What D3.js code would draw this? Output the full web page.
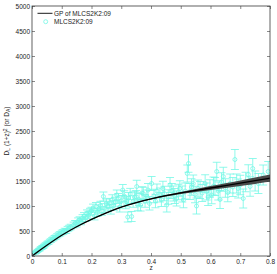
<!DOCTYPE html>
<html>
<head>
<meta charset="utf-8">
<script src="https://cdn.jsdelivr.net/npm/d3@7"></script>
<style>
  body { margin: 0; background: #fff; }
  svg { display: block; font-family: "Liberation Sans", Arial, sans-serif; }
</style>
</head>
<body>
<div id="chart"></div>
<script>
// GP reconstruction (mean and spread)
var gpZ = [0, 0.05, 0.1, 0.15, 0.2, 0.25, 0.3, 0.35, 0.4, 0.45, 0.5, 0.55, 0.6, 0.65, 0.7, 0.75, 0.8];
var gpMean = [0, 215, 420, 590, 735, 865, 980, 1068, 1143, 1207, 1262, 1312, 1360, 1407, 1455, 1505, 1558];
var gpSigma = [0, 2, 3, 4, 5, 6, 7, 9, 11, 15, 20, 30, 40, 48, 56, 63, 70];

// MLCS2K2:09 supernovae: redshift, distance, error
var snZ = [0.010, 0.012, 0.014, 0.016, 0.018, 0.020, 0.022, 0.024, 0.026, 0.028,
  0.030, 0.032, 0.034, 0.036, 0.038, 0.040, 0.043, 0.046, 0.050, 0.053,
  0.056, 0.060, 0.064, 0.068, 0.072, 0.076, 0.080, 0.085, 0.090, 0.095,
  0.100, 0.105, 0.110, 0.115, 0.120, 0.125, 0.130, 0.140, 0.145, 0.150,
  0.155, 0.160, 0.165, 0.170, 0.175, 0.180, 0.185, 0.190, 0.195, 0.200,
  0.205, 0.210, 0.215, 0.220, 0.225, 0.230, 0.235, 0.240, 0.245, 0.250,
  0.255, 0.260, 0.265, 0.270, 0.275, 0.280, 0.285, 0.290, 0.295, 0.300,
  0.305, 0.310, 0.315, 0.318, 0.322, 0.325, 0.330, 0.335, 0.340, 0.345,
  0.350, 0.352, 0.356, 0.360, 0.365, 0.370, 0.374, 0.380, 0.386, 0.390,
  0.395, 0.402, 0.410, 0.415, 0.420, 0.430, 0.435, 0.440, 0.445, 0.453,
  0.458, 0.464, 0.470, 0.475, 0.480, 0.486, 0.492, 0.497, 0.505, 0.509,
  0.515, 0.522, 0.526, 0.531, 0.536, 0.542, 0.548, 0.553, 0.558, 0.565,
  0.572, 0.582, 0.587, 0.592, 0.598, 0.604, 0.610, 0.615, 0.621, 0.626,
  0.632, 0.637, 0.643, 0.650, 0.658, 0.666, 0.675, 0.682, 0.688, 0.693,
  0.700, 0.710, 0.718, 0.727, 0.733, 0.742, 0.750, 0.761, 0.777, 0.794];
var snD = [55, 70, 75, 90, 95, 110, 115, 130, 125, 150,
  160, 155, 175, 185, 180, 205, 215, 235, 250, 265,
  270, 300, 310, 335, 345, 370, 380, 405, 430, 445,
  470, 480, 505, 500, 540, 560, 580, 620, 650, 640,
  700, 720, 690, 760, 800, 760, 850, 820, 880, 900,
  960, 800, 990, 870, 940, 1010, 900, 1190, 960, 1050,
  990, 1060, 930, 1130, 1010, 1080, 1220, 1150, 980, 1100,
  1320, 1200, 1050, 1090, 780, 1160, 1240, 790, 1090, 1180,
  1190, 1390, 1020, 1130, 1020, 1260, 1250, 1100, 1190, 1320,
  1050, 1450, 1200, 1100, 1300, 1220, 1130, 1350, 1250, 1020,
  1180, 1420, 1300, 1250, 1200, 1150, 1280, 1350, 1240, 1120,
  1300, 1650, 1850, 1290, 1380, 1450, 1230, 1000, 1350, 1320,
  1260, 1450, 1290, 1180, 1350, 1220, 1400, 1390, 1690, 1300,
  1130, 1480, 1590, 1360, 1270, 1450, 1380, 1930, 1450, 1350,
  1420, 1150, 1480, 1630, 1390, 1750, 1500, 1450, 1620, 1690];
var snErr = [15, 15, 18, 18, 20, 20, 20, 22, 22, 24,
  24, 25, 25, 26, 27, 28, 28, 30, 30, 32,
  33, 34, 35, 36, 38, 40, 40, 42, 44, 45,
  46, 48, 50, 50, 52, 54, 55, 58, 60, 60,
  62, 64, 65, 66, 68, 70, 72, 72, 74, 75,
  78, 78, 80, 80, 82, 84, 85, 90, 88, 90,
  90, 92, 92, 95, 95, 96, 100, 100, 100, 102,
  110, 105, 105, 105, 100, 110, 112, 100, 115, 115,
  118, 125, 115, 120, 120, 125, 125, 125, 130, 130,
  130, 140, 135, 135, 140, 140, 140, 145, 145, 140,
  145, 150, 150, 150, 150, 150, 155, 155, 160, 155,
  160, 170, 175, 160, 165, 170, 165, 160, 170, 170,
  170, 175, 170, 170, 175, 175, 180, 180, 185, 180,
  180, 185, 185, 185, 185, 190, 190, 200, 190, 190,
  195, 190, 195, 195, 195, 200, 200, 200, 200, 200];

var xTicks = [0, 0.1, 0.2, 0.3, 0.4, 0.5, 0.6, 0.7, 0.8];
var yTicks = [0, 500, 1000, 1500, 2000, 2500, 3000, 3500, 4000, 4500, 5000];
var legendLabels = ["GP of MLCS2K2:09", "MLCS2K2:09"];

var W = 277, H = 274;
var margin = {left: 32, right: 7, top: 6, bottom: 18};
var cyan = "#74f7e6";
var axisColor = "#3a3a3a";

var svg = d3.select("#chart").append("svg")
  .attr("width", W)
  .attr("height", H);

var x = d3.scaleLinear().domain([0, 0.8]).range([margin.left, W - margin.right]);
var y = d3.scaleLinear().domain([0, 5000]).range([H - margin.bottom, margin.top]);

svg.append("clipPath").attr("id", "plot-clip")
  .append("rect")
  .attr("x", x(0)).attr("y", y(5000))
  .attr("width", x(0.8) - x(0)).attr("height", y(0) - y(5000));

var plot = svg.append("g").attr("clip-path", "url(#plot-clip)");

// data points with error bars
var sn = snZ.map(function (z, i) { return {z: z, d: snD[i], e: snErr[i]}; });
var capW = 4;
var pts = plot.append("g")
  .attr("stroke", cyan)
  .attr("stroke-width", 0.8)
  .attr("fill", "none");

pts.selectAll("g.sn").data(sn).enter().append("g")
  .attr("class", "sn")
  .each(function (d) {
    var g = d3.select(this);
    var cx = x(d.z), top = y(d.d + d.e), bot = y(d.d - d.e);
    g.append("line").attr("x1", cx).attr("x2", cx).attr("y1", top).attr("y2", bot);
    g.append("line").attr("x1", cx - capW).attr("x2", cx + capW).attr("y1", top).attr("y2", top);
    g.append("line").attr("x1", cx - capW).attr("x2", cx + capW).attr("y1", bot).attr("y2", bot);
    g.append("circle").attr("cx", cx).attr("cy", y(d.d)).attr("r", 2);
  });

// GP band and mean
var gp = gpZ.map(function (z, i) { return {z: z, m: gpMean[i], s: gpSigma[i]}; });

plot.append("path")
  .datum(gp)
  .attr("fill", "#4a4a4a")
  .attr("d", d3.area()
    .curve(d3.curveBasis)
    .x(function (d) { return x(d.z); })
    .y0(function (d) { return y(d.m - d.s); })
    .y1(function (d) { return y(d.m + d.s); }));

plot.append("path")
  .datum(gp)
  .attr("fill", "none")
  .attr("stroke", "#000")
  .attr("stroke-width", 1.3)
  .attr("d", d3.line()
    .curve(d3.curveBasis)
    .x(function (d) { return x(d.z); })
    .y(function (d) { return y(d.m); }));

// axes, ticks pointing inward on all four sides
function styleAxis(g) {
  g.select(".domain").remove();
  g.selectAll("line").attr("stroke", axisColor).attr("stroke-width", 0.6);
  g.selectAll("text").attr("fill", "#222").style("font-size", "6.5px");
}

svg.append("g")
  .attr("transform", "translate(0," + y(0) + ")")
  .call(d3.axisBottom(x).tickValues(xTicks).tickSize(-3).tickPadding(3)
    .tickFormat(function (d) { return d === 0 ? "0" : d3.format(".1f")(d); }))
  .call(styleAxis);

svg.append("g")
  .attr("transform", "translate(0," + y(5000) + ")")
  .call(d3.axisTop(x).tickValues(xTicks).tickSize(-3).tickFormat(""))
  .call(styleAxis);

svg.append("g")
  .attr("transform", "translate(" + x(0) + ",0)")
  .call(d3.axisLeft(y).tickValues(yTicks).tickSize(-3).tickPadding(2).tickFormat(d3.format("d")))
  .call(styleAxis);

svg.append("g")
  .attr("transform", "translate(" + x(0.8) + ",0)")
  .call(d3.axisRight(y).tickValues(yTicks).tickSize(-3).tickFormat(""))
  .call(styleAxis);

svg.append("rect")
  .attr("x", x(0)).attr("y", y(5000))
  .attr("width", x(0.8) - x(0)).attr("height", y(0) - y(5000))
  .attr("fill", "none")
  .attr("stroke", axisColor)
  .attr("stroke-width", 0.8);

// axis labels
svg.append("text")
  .attr("x", (x(0) + x(0.8)) / 2)
  .attr("y", H - 4)
  .attr("text-anchor", "middle")
  .style("font-size", "6.5px")
  .attr("fill", "#222")
  .text("z");

var yl = svg.append("text")
  .attr("transform", "translate(9," + ((y(0) + y(5000)) / 2) + ") rotate(-90)")
  .attr("text-anchor", "middle")
  .style("font-size", "6.5px")
  .attr("fill", "#222");
yl.append("tspan").text("D");
yl.append("tspan").attr("baseline-shift", "-25%").style("font-size", "5px").text("L");
yl.append("tspan").text(" (1+z)");
yl.append("tspan").attr("baseline-shift", "40%").style("font-size", "5px").text("2");
yl.append("tspan").text(" (or D");
yl.append("tspan").attr("baseline-shift", "-25%").style("font-size", "5px").text("A");
yl.append("tspan").text(")");

// legend
var lg = svg.append("g");
lg.append("line")
  .attr("x1", 37.5).attr("x2", 52.5).attr("y1", 13.3).attr("y2", 13.3)
  .attr("stroke", "#000").attr("stroke-width", 0.9);
lg.append("text").attr("x", 54).attr("y", 15.6)
  .style("font-size", "6.5px").attr("fill", "#222").text(legendLabels[0]);
lg.append("circle").attr("cx", 45.7).attr("cy", 21.7).attr("r", 2)
  .attr("fill", "none").attr("stroke", cyan).attr("stroke-width", 0.8);
lg.append("text").attr("x", 54).attr("y", 24)
  .style("font-size", "6.5px").attr("fill", "#222").text(legendLabels[1]);
</script>
</body>
</html>
